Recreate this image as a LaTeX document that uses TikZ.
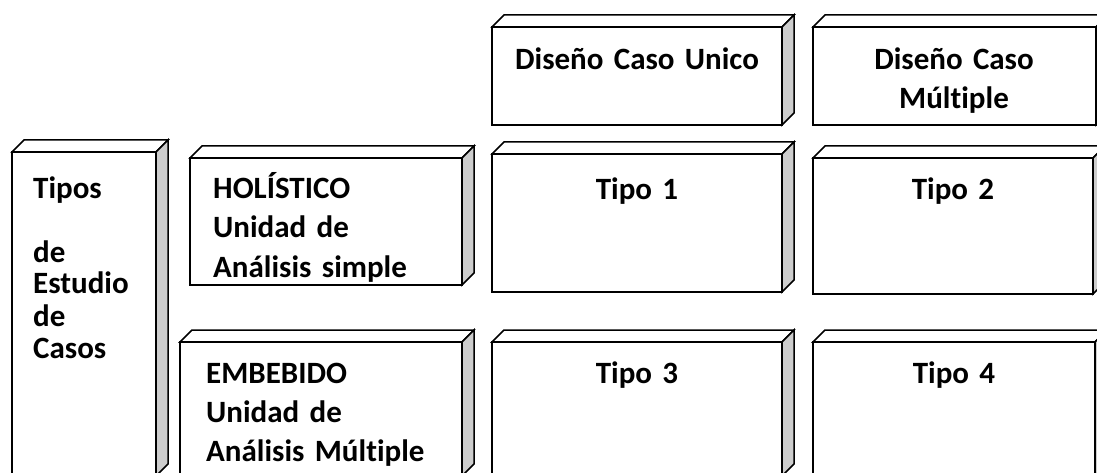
\documentclass[tikz,border=0pt]{standalone}
\usepackage{fontspec}
\setmainfont{Carlito}[Ligatures={NoCommon,NoRare,NoDiscretionary}]
\usepackage[RGB]{xcolor}
\usepackage{tikz}
\definecolor{sidegray}{RGB}{205,205,205}
\tikzset{
  boxline/.style={line width=1.5pt, line join=miter},
  boxtext/.style={font=\bfseries\fontsize{31}{39}\selectfont, inner sep=0pt},
  lefttext/.style={boxtext, align=left, text width=280pt, anchor=base west},
  midtext/.style={boxtext, align=center, text width=280pt, anchor=base}
}
% front face from (#1,#2) to (#3,#4), top and side set back by 12
\newcommand{\drawbox}[4]{
  \filldraw[boxline, fill=white] (#1,#2) -- ++(12,-12) -- (#3+12,#2-12) -- (#3,#2) -- cycle;
  \filldraw[boxline, fill=sidegray] (#3,#2) -- (#3+12,#2-12) -- (#3+12,#4-12) -- (#3,#4) -- cycle;
  \filldraw[boxline, fill=white] (#1,#2) rectangle (#3,#4);
}

\begin{document}
\begin{tikzpicture}[x=1pt, y=-1pt]
\useasboundingbox (0,0) rectangle (1097,473);
\clip (0,0) rectangle (1097,473);
    \drawbox{12}{152}{156}{476}
    \drawbox{190}{158}{462}{285}
    \drawbox{180}{342}{462}{476}
    \drawbox{492}{27}{782}{125}
    \drawbox{813}{27}{1096}{125}
    \drawbox{492}{154}{782}{292}
    \drawbox{813}{158}{1093}{294}
    \drawbox{492}{342}{782}{476}
    \drawbox{813}{342}{1095}{476}
\node[lefttext, text width=120pt, font=\bfseries\fontsize{31}{32}\selectfont] (tipos) at (33,198) {Tipos\\[32pt]de\\Estudio\\de\\Casos};
\node[lefttext] (holistico) at (213,199) {HOLÍSTICO\\Unidad de\\Análisis simple};
\node[lefttext] (embebido) at (206,383) {EMBEBIDO\\Unidad de\\Análisis Múltiple};
\node[midtext] (unico) at (637,70) {Diseño Caso Unico};
\node[midtext] (multiple) at (954,70) {Diseño Caso\\Múltiple};
\node[midtext] (tipo1) at (637,200) {Tipo 1};
\node[midtext] (tipo2) at (953,200) {Tipo 2};
\node[midtext] (tipo3) at (637,383) {Tipo 3};
\node[midtext] (tipo4) at (954,383) {Tipo 4};
\end{tikzpicture}
\end{document}
